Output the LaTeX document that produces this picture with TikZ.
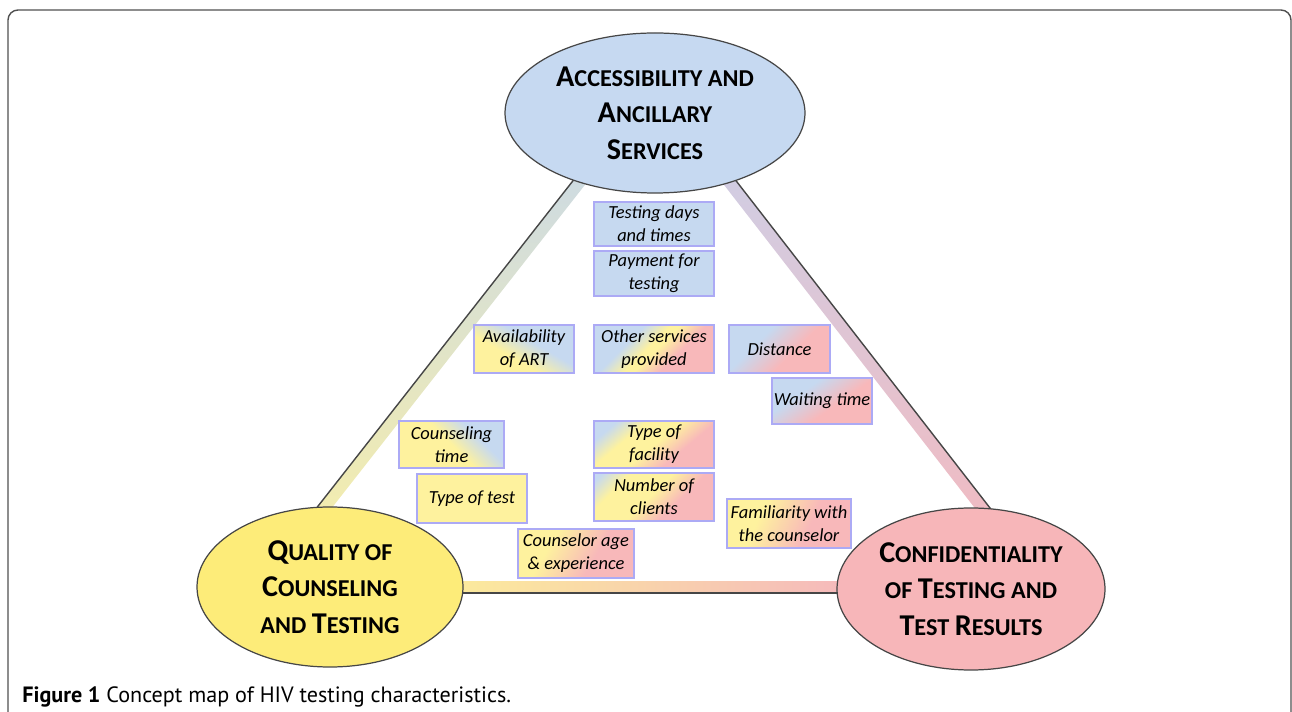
\documentclass[tikz,border=0pt]{standalone}
\usepackage{fontspec}
\setmainfont{Carlito}
\newfontfamily\capfont{PT Sans}
\usetikzlibrary{shapes.geometric}

\definecolor{ellblue}{RGB}{198,217,241}
\definecolor{ellyel}{RGB}{253,236,121}
\definecolor{ellpink}{RGB}{247,182,185}
\definecolor{bxblue}{RGB}{198,217,240}
\definecolor{bxyel}{RGB}{254,242,158}
\definecolor{bxpink}{RGB}{248,184,186}
\definecolor{bxbord}{RGB}{172,170,245}
\definecolor{edgec}{RGB}{70,70,70}
\definecolor{framec}{RGB}{80,80,80}
\definecolor{bandblue}{RGB}{200,216,234}
\definecolor{bandyel}{RGB}{250,240,165}
\definecolor{bandlav}{RGB}{204,208,232}
\definecolor{bandpink}{RGB}{245,184,189}
\definecolor{bandyelb}{RGB}{252,236,155}

\pgfdeclarehorizontalshading{sYB}{100bp}{color(0bp)=(bxyel); color(40bp)=(bxyel); color(58bp)=(bxblue); color(100bp)=(bxblue)}
\pgfdeclarehorizontalshading{sYBc}{100bp}{color(0bp)=(bxyel); color(50bp)=(bxyel); color(66bp)=(bxblue); color(100bp)=(bxblue)}
\pgfdeclarehorizontalshading{sBYP}{100bp}{color(0bp)=(bxblue); color(36bp)=(bxblue); color(47bp)=(bxyel); color(51bp)=(bxyel); color(62bp)=(bxpink); color(100bp)=(bxpink)}
\pgfdeclarehorizontalshading{sBYPf}{100bp}{color(0bp)=(bxblue); color(24bp)=(bxblue); color(36bp)=(bxyel); color(50bp)=(bxyel); color(64bp)=(bxpink); color(100bp)=(bxpink)}
\pgfdeclarehorizontalshading{sBYPn}{100bp}{color(0bp)=(bxblue); color(18bp)=(bxblue); color(30bp)=(bxyel); color(48bp)=(bxyel); color(62bp)=(bxpink); color(100bp)=(bxpink)}
\pgfdeclarehorizontalshading{sBP}{100bp}{color(0bp)=(bxblue); color(36bp)=(bxblue); color(58bp)=(bxpink); color(100bp)=(bxpink)}
\pgfdeclarehorizontalshading{sYP}{100bp}{color(0bp)=(bxyel); color(35bp)=(bxyel); color(60bp)=(bxpink); color(100bp)=(bxpink)}

\newcommand\BL[1]{{\fontsize{17.2pt}{20.8pt}\selectfont #1}}

\tikzset{
  concept/.style={ellipse, draw=edgec, line width=0.7pt, inner sep=0pt, align=center,
    font=\bfseries\fontsize{13.8pt}{20.8pt}\selectfont},
  box/.style={draw=bxbord, line width=0.75pt, inner sep=0pt, align=center,
    font=\itshape\fontsize{10.5pt}{13pt}\selectfont},
  bandline/.style={draw=edgec, line width=0.8pt},
}

\begin{document}
\begin{tikzpicture}[x=0.02cm, y=-0.02cm]
\useasboundingbox (0,0) rectangle (1292,712);
\clip (0,0) rectangle (1292,712);

% frame
\draw[framec, line width=0.8pt, rounded corners=0.2cm] (8,760) -- (8,10) -- (1291,10) -- (1291,760);

% bands
\shade[top color=bandblue, bottom color=bandyel] (623.4,116.4) -- (263.6,575.6) -- (273,583) -- (632.8,123.8) -- cycle;
\draw[bandline] (623.4,116.4) -- (263.6,575.6);
\shade[top color=bandlav, bottom color=bandpink] (686.4,116.8) -- (1040.6,573.2) -- (1031.1,580.6) -- (676.9,124.2) -- cycle;
\draw[bandline] (686.4,116.8) -- (1040.6,573.2);
\shade[left color=bandyelb, right color=bandpink] (440,582) rectangle (860,593);
\draw[bandline] (440,593) -- (860,593);

% concepts
\node[concept, fill=ellblue, minimum width=300*0.02cm, minimum height=160*0.02cm] (acc) at (655,113)
  {\BL{A}CCESSIBILITY AND\\\BL{A}NCILLARY\\\BL{S}ERVICES};
\node[concept, fill=ellyel, minimum width=266*0.02cm, minimum height=160*0.02cm] (qual) at (330,587)
  {\BL{Q}UALITY OF\\\BL{C}OUNSELING\\AND \BL{T}ESTING};
\node[concept, fill=ellpink, minimum width=268*0.02cm, minimum height=162*0.02cm] (conf) at (971,589)
  {\BL{C}ONFIDENTIALITY\\OF \BL{T}ESTING AND\\\BL{T}EST \BL{R}ESULTS};

% boxes
\node[box, fill=bxblue, minimum width=120*0.02cm, minimum height=44*0.02cm] (days) at (654,224) {Testing days\\and times};
\node[box, fill=bxblue, minimum width=120*0.02cm, minimum height=45*0.02cm] (pay) at (654,273.5) {Payment for\\testing};
\node[box, shade, shading=sYB, shading angle=60, minimum width=100*0.02cm, minimum height=48*0.02cm] (art) at (524,349) {Availability\\of ART};
\node[box, shade, shading=sBYP, shading angle=-45, minimum width=120*0.02cm, minimum height=48*0.02cm] (other) at (654,349) {Other services\\provided};
\node[box, shade, shading=sBP, shading angle=-45, minimum width=101*0.02cm, minimum height=48*0.02cm] (dist) at (779.5,349) {Distance};
\node[box, shade, shading=sBP, shading angle=-55, minimum width=100*0.02cm, minimum height=46*0.02cm] (wait) at (822,401) {Waiting time};
\node[box, shade, shading=sYBc, shading angle=45, minimum width=105*0.02cm, minimum height=47*0.02cm] (couns) at (451.5,444.5) {Counseling\\time};
\node[box, fill=bxyel, minimum width=110*0.02cm, minimum height=49*0.02cm] (test) at (472,498.5) {Type of test};
\node[box, shade, shading=sBYPf, shading angle=-50, minimum width=120*0.02cm, minimum height=47*0.02cm] (fac) at (654,444.5) {Type of\\facility};
\node[box, shade, shading=sBYPn, shading angle=-45, minimum width=120*0.02cm, minimum height=48*0.02cm] (clients) at (654,497) {Number of\\clients};
\node[box, shade, shading=sYP, shading angle=-25, minimum width=124*0.02cm, minimum height=49*0.02cm] (fam) at (789,523.5) {Familiarity with\\the counselor};
\node[box, shade, shading=sYP, shading angle=-30, minimum width=116*0.02cm, minimum height=49*0.02cm] (age) at (576,553.5) {Counselor age\\\& experience};

% caption
\node[anchor=base west, inner sep=0pt, font=\capfont\fontsize{12.6pt}{15pt}\selectfont] (cap) at (22,703)
  {\textbf{Figure 1} Concept map of HIV testing characteristics.};
\end{tikzpicture}
\end{document}
